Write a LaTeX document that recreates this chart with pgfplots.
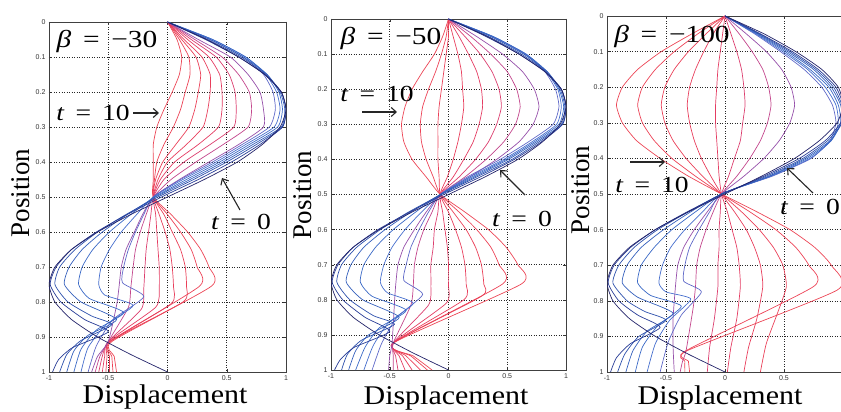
\documentclass[border=0pt]{standalone}
\usepackage{fontspec}
\setmainfont{Liberation Serif}
\setsansfont{Liberation Sans}
\usepackage{pgfplots}
\pgfplotsset{compat=1.18}
\usetikzlibrary{arrows.meta}

% line colours, from t = 0 (dark blue) to t = 10 (red)
\definecolor{t0}{RGB}{35,35,105}
\definecolor{t1}{RGB}{40,60,150}
\definecolor{t2}{RGB}{45,80,172}
\definecolor{t3}{RGB}{52,95,188}
\definecolor{t4}{RGB}{58,105,198}
\definecolor{t5}{RGB}{70,110,205}
\definecolor{t6}{RGB}{95,105,200}
\definecolor{t7}{RGB}{150,80,170}
\definecolor{t8}{RGB}{195,70,140}
\definecolor{t9}{RGB}{220,62,110}
\definecolor{t10}{RGB}{228,60,98}
\definecolor{t11}{RGB}{232,62,92}
\definecolor{t12}{RGB}{234,64,88}
\definecolor{t13}{RGB}{236,66,86}
\definecolor{t14}{RGB}{236,70,86}

\pgfplotsset{
  dispaxis/.style={
    scale only axis,
    y dir=reverse,
    xmin=-1, xmax=1, ymin=0, ymax=1,
    xtick={-1,-0.5,0,0.5,1},
    xticklabels={-1,-0.5,0,0.5,1},
    ytick={0,0.1,0.2,0.3,0.4,0.5,0.6,0.7,0.8,0.9,1},
    yticklabels={0,0.1,0.2,0.3,0.4,0.5,0.6,0.7,0.8,0.9,1},
    grid=major,
    major grid style={black!85, line width=0.55pt, dash pattern=on 0.9pt off 1.6pt},
    tick align=inside,
    major tick length=3pt,
    tick style={black!80, line width=0.4pt},
    tick label style={font=\sffamily\fontsize{7}{8}\selectfont, text=black!80},
    axis line style={black!75, line width=0.6pt},
    every axis plot/.append style={smooth, tension=0.35, line width=0.7pt, mark=none},
  },
}
\tikzset{arr/.style={-{Straight Barb[length=5pt,width=9pt]}, line width=1.1pt, black!85}}

\newcommand\lbl[1]{\scalebox{1.2}[1]{#1}}
\newcommand\gap{\hspace{0.4em}}

\begin{document}
\begin{tikzpicture}
\useasboundingbox (0pt,0pt) rectangle (841pt,412pt);

% ---------------- beta = -30 ----------------
\begin{axis}[dispaxis, at={(49pt,40pt)}, anchor=south west, width=237pt, height=350pt]
\addplot[t14] coordinates {(0,0) (.08,.05) (.12,.1) (.10,.15) (.04,.2) (-.03,.25) (-.09,.3) (-.12,.35) (-.12,.4) (-.12,.45) (-.12,.5) (.03,.55) (.17,.6) (.28,.65) (.35,.7) (.37,.755) (-.47,.913) (-.45,.955) (-.43,1)};
\addplot[t13] coordinates {(0,0) (.10,.05) (.18,.1) (.19,.15) (.15,.2) (.11,.25) (.05,.3) (-.03,.35) (-.09,.4) (-.11,.45) (-.12,.5) (0,.55) (.11,.6) (.20,.65) (.25,.7) (.27,.755) (-.48,.913) (-.47,.955) (-.46,1)};
\addplot[t12] coordinates {(0,0) (.12,.05) (.24,.1) (.28,.15) (.26,.2) (.23,.25) (.18,.3) (.07,.35) (-.04,.4) (-.10,.45) (-.12,.5) (-.03,.55) (.04,.6) (.11,.65) (.15,.7) (.16,.755) (.13,.8) (-.49,.913) (-.49,.955) (-.49,1)};
\addplot[t11] coordinates {(0,0) (.14,.05) (.29,.1) (.36,.15) (.36,.2) (.34,.25) (.30,.3) (.16,.35) (0,.4) (-.08,.45) (-.12,.5) (-.07,.55) (-.02,.6) (.02,.65) (.04,.7) (.05,.755) (.03,.805) (-.49,.913) (-.51,.955) (-.52,1)};
\addplot[t10] coordinates {(0,0) (.17,.05) (.35,.1) (.44,.15) (.46,.2) (.46,.25) (.43,.3) (.26,.35) (.06,.4) (-.06,.45) (-.12,.5) (-.10,.55) (-.09,.6) (-.08,.65) (-.07,.7) (-.07,.76) (-.10,.815) (-.50,.913) (-.53,.955) (-.55,1)};
\addplot[t9] coordinates {(0,0) (.20,.05) (.41,.1) (.52,.15) (.57,.2) (.58,.25) (.56,.3) (.36,.35) (.14,.4) (-.03,.45) (-.12,.5) (-.14,.55) (-.16,.6) (-.18,.65) (-.19,.7) (-.20,.76) (-.22,.82) (-.50,.913) (-.55,.955) (-.58,1)};
\addplot[t8] coordinates {(0,0) (.23,.05) (.46,.1) (.60,.15) (.69,.2) (.71,.25) (.68,.3) (.47,.35) (.24,.4) (.03,.45) (-.12,.5) (-.18,.55) (-.23,.6) (-.27,.65) (-.29,.7) (-.31,.76) (-.33,.815) (-.50,.913) (-.57,.955) (-.61,1)};
\addplot[t7] coordinates {(0,0) (.26,.05) (.53,.1) (.68,.15) (.78,.2) (.81,.25) (.81,.3) (.60,.35) (.35,.4) (.10,.45) (-.12,.5) (-.21,.55) (-.28,.6) (-.35,.65) (-.39,.7) (-.41,.76) (-.43,.81) (-.50,.913) (-.59,.955) (-.64,1)};
\addplot[t6] coordinates {(0,0) (.36,.05) (.64,.1) (.81,.15) (.89,.2) (.91,.25) (.86,.3) (.63,.35) (.38,.4) (.11,.45) (-.12,.5) (-.20,.55) (-.27,.6) (-.33,.65) (-.37,.7) (-.38,.745) (-.20,.785) (-.46,.85) (-.60,.925) (-.67,1)};
\addplot[t5] coordinates {(0,0) (.38,.05) (.66,.1) (.83,.15) (.92,.2) (.95,.25) (.90,.3) (.66,.35) (.41,.4) (.13,.45) (-.12,.5) (-.26,.55) (-.39,.6) (-.49,.65) (-.56,.7) (-.58,.75) (-.53,.78) (-.29,.81) (-.52,.865) (-.67,.93) (-.73,1)};
\addplot[t4] coordinates {(0,0) (.38,.05) (.66,.1) (.84,.15) (.94,.2) (.97,.25) (.93,.3) (.69,.35) (.44,.4) (.16,.45) (-.11,.5) (-.31,.55) (-.49,.6) (-.63,.65) (-.72,.7) (-.75,.75) (-.66,.79) (-.37,.83) (-.60,.88) (-.73,.935) (-.79,1)};
\addplot[t3] coordinates {(0,0) (.36,.05) (.64,.1) (.84,.15) (.95,.2) (.99,.25) (.96,.3) (.72,.35) (.47,.4) (.19,.45) (-.10,.5) (-.34,.55) (-.55,.6) (-.72,.65) (-.83,.7) (-.87,.75) (-.73,.8) (-.43,.85) (-.67,.895) (-.79,.94) (-.85,1)};
\addplot[t2] coordinates {(0,0) (.34,.05) (.62,.1) (.83,.15) (.96,.2) (1,.25) (.97,.3) (.75,.35) (.50,.4) (.22,.45) (-.08,.5) (-.35,.55) (-.59,.6) (-.78,.65) (-.91,.7) (-.95,.75) (-.84,.8) (-.64,.84) (-.47,.865) (-.73,.91) (-.85,.95) (-.91,1)};
\addplot[t1] coordinates {(0,0) (.32,.05) (.60,.1) (.82,.15) (.96,.2) (1,.25) (.97,.3) (.78,.35) (.54,.4) (.26,.45) (-.05,.5) (-.34,.55) (-.60,.6) (-.81,.65) (-.94,.7) (-.99,.75) (-.90,.8) (-.70,.85) (-.50,.885) (-.80,.93) (-.92,.965) (-.97,1)};
\addplot[t0] coordinates {(0,0) (.33,.05) (.60,.1) (.82,.15) (.96,.2) (1,.25) (.95,.3) (.80,.35) (.59,.4) (.31,.45) (0,.5) (-.31,.55) (-.59,.6) (-.81,.65) (-.95,.7) (-1,.75) (-.95,.8) (-.81,.85) (-.59,.9) (-.31,.95) (0,1)};
\end{axis}

% ---------------- beta = -50 ----------------
\begin{axis}[dispaxis, at={(331pt,42pt)}, anchor=south west, width=235pt, height=351pt]
\addplot[t14] coordinates {(0,0) (-.05,.05) (-.12,.1) (-.22,.15) (-.31,.2) (-.37,.25) (-.40,.3) (-.38,.35) (-.31,.4) (-.19,.45) (-.07,.5) (.14,.55) (.34,.6) (.49,.65) (.59,.7) (.62,.755) (-.47,.923) (-.30,.96) (-.14,1)};
\addplot[t13] coordinates {(0,0) (-.02,.05) (-.06,.1) (-.11,.15) (-.17,.2) (-.22,.25) (-.24,.3) (-.23,.35) (-.19,.4) (-.13,.45) (-.07,.5) (.09,.55) (.24,.6) (.36,.65) (.43,.7) (.46,.755) (-.47,.923) (-.32,.96) (-.18,1)};
\addplot[t12] coordinates {(0,0) (0,.05) (-.02,.1) (-.04,.15) (-.06,.2) (-.08,.25) (-.09,.3) (-.09,.35) (-.09,.4) (-.08,.45) (-.07,.5) (.04,.55) (.15,.6) (.23,.65) (.28,.7) (.30,.755) (.28,.79) (-.47,.923) (-.36,.96) (-.24,1)};
\addplot[t11] coordinates {(0,0) (.04,.05) (.08,.1) (.11,.15) (.12,.2) (.13,.25) (.11,.3) (.08,.35) (.04,.4) (-.01,.45) (-.07,.5) (0,.55) (.06,.6) (.11,.65) (.14,.7) (.15,.755) (.13,.80) (-.47,.923) (-.39,.96) (-.31,1)};
\addplot[t10] coordinates {(0,0) (.09,.05) (.17,.1) (.24,.15) (.28,.2) (.29,.25) (.26,.3) (.21,.35) (.13,.4) (.04,.45) (-.07,.5) (-.05,.55) (-.03,.6) (-.01,.65) (0,.7) (0,.76) (-.02,.81) (-.47,.923) (-.42,.96) (-.37,1)};
\addplot[t9] coordinates {(0,0) (.14,.05) (.27,.1) (.37,.15) (.43,.2) (.45,.25) (.41,.3) (.34,.35) (.23,.4) (.09,.45) (-.07,.5) (-.09,.55) (-.12,.6) (-.13,.65) (-.15,.7) (-.15,.76) (-.17,.815) (-.47,.923) (-.45,.96) (-.43,1)};
\addplot[t8] coordinates {(0,0) (.19,.05) (.36,.1) (.50,.15) (.58,.2) (.61,.25) (.57,.3) (.47,.35) (.32,.4) (.14,.45) (-.07,.5) (-.14,.55) (-.21,.6) (-.26,.65) (-.29,.7) (-.30,.76) (-.32,.815) (-.47,.923) (-.47,.96) (-.47,1)};
\addplot[t7] coordinates {(0,0) (.24,.05) (.46,.1) (.63,.15) (.73,.2) (.77,.25) (.72,.3) (.60,.35) (.41,.4) (.18,.45) (-.07,.5) (-.19,.55) (-.29,.6) (-.38,.65) (-.43,.7) (-.45,.76) (-.46,.81) (-.48,.923) (-.50,.96) (-.51,1)};
\addplot[t6] coordinates {(0,0) (.37,.05) (.65,.1) (.82,.15) (.91,.2) (.94,.25) (.89,.3) (.68,.35) (.44,.4) (.16,.45) (-.07,.5) (-.17,.55) (-.25,.6) (-.32,.65) (-.36,.7) (-.38,.745) (-.22,.785) (-.44,.85) (-.57,.925) (-.65,1)};
\addplot[t5] coordinates {(0,0) (.38,.05) (.66,.1) (.83,.15) (.93,.2) (.96,.25) (.92,.3) (.71,.35) (.47,.4) (.18,.45) (-.07,.5) (-.23,.55) (-.37,.6) (-.48,.65) (-.55,.7) (-.58,.75) (-.52,.78) (-.30,.81) (-.51,.865) (-.64,.93) (-.72,1)};
\addplot[t4] coordinates {(0,0) (.38,.05) (.66,.1) (.84,.15) (.94,.2) (.98,.25) (.94,.3) (.73,.35) (.49,.4) (.20,.45) (-.07,.5) (-.28,.55) (-.47,.6) (-.62,.65) (-.72,.7) (-.75,.75) (-.65,.79) (-.36,.83) (-.59,.88) (-.71,.935) (-.79,1)};
\addplot[t3] coordinates {(0,0) (.36,.05) (.64,.1) (.84,.15) (.95,.2) (.99,.25) (.96,.3) (.75,.35) (.51,.4) (.22,.45) (-.07,.5) (-.32,.55) (-.54,.6) (-.72,.65) (-.83,.7) (-.87,.75) (-.73,.8) (-.42,.85) (-.68,.9) (-.79,.945) (-.85,1)};
\addplot[t2] coordinates {(0,0) (.34,.05) (.62,.1) (.83,.15) (.96,.2) (1,.25) (.97,.3) (.77,.35) (.54,.4) (.24,.45) (-.06,.5) (-.34,.55) (-.58,.6) (-.78,.65) (-.91,.7) (-.95,.75) (-.84,.8) (-.64,.845) (-.46,.87) (-.74,.915) (-.86,.955) (-.91,1)};
\addplot[t1] coordinates {(0,0) (.32,.05) (.60,.1) (.82,.15) (.96,.2) (1,.25) (.97,.3) (.79,.35) (.56,.4) (.27,.45) (-.04,.5) (-.33,.55) (-.60,.6) (-.81,.65) (-.94,.7) (-.99,.75) (-.90,.8) (-.71,.85) (-.50,.89) (-.80,.935) (-.92,.97) (-.97,1)};
\addplot[t0] coordinates {(0,0) (.33,.05) (.60,.1) (.82,.15) (.96,.2) (1,.25) (.95,.3) (.80,.35) (.59,.4) (.31,.45) (0,.5) (-.31,.55) (-.59,.6) (-.81,.65) (-.95,.7) (-1,.75) (-.95,.8) (-.81,.85) (-.59,.9) (-.31,.95) (0,1)};
\end{axis}

% ---------------- beta = -100 ----------------
\begin{axis}[dispaxis, at={(607pt,40pt)}, anchor=south west, width=236pt, height=356pt,
  xticklabels={-1,-0.5,0,0.5,{}}]
\addplot[t14] coordinates {(0,0) (-.28,.05) (-.54,.1) (-.74,.15) (-.87,.2) (-.92,.25) (-.87,.3) (-.75,.35) (-.55,.4) (-.31,.45) (-.03,.5) (.27,.55) (.55,.6) (.76,.65) (.90,.7) (.95,.77) (-.32,.94) (-.31,.97) (-.30,1)};
\addplot[t13] coordinates {(0,0) (-.23,.05) (-.43,.1) (-.59,.15) (-.70,.2) (-.74,.25) (-.70,.3) (-.60,.35) (-.45,.4) (-.25,.45) (-.03,.5) (.21,.55) (.43,.6) (.60,.65) (.71,.7) (.75,.76) (-.33,.94) (-.34,.97) (-.34,1)};
\addplot[t12] coordinates {(0,0) (-.16,.05) (-.31,.1) (-.43,.15) (-.51,.2) (-.54,.25) (-.51,.3) (-.44,.35) (-.33,.4) (-.19,.45) (-.03,.5) (.14,.55) (.29,.6) (.41,.65) (.49,.7) (.52,.76) (.45,.83) (.35,.92) (.30,1)};
\addplot[t11] coordinates {(0,0) (-.10,.05) (-.18,.1) (-.25,.15) (-.30,.2) (-.32,.25) (-.30,.3) (-.26,.35) (-.20,.4) (-.12,.45) (-.03,.5) (.08,.55) (.18,.6) (.25,.65) (.30,.7) (.32,.76) (.27,.85) (.20,.93) (.16,1)};
\addplot[t10] coordinates {(0,0) (-.02,.05) (-.04,.1) (-.06,.15) (-.07,.2) (-.08,.25) (-.08,.3) (-.07,.35) (-.06,.4) (-.05,.45) (-.03,.5) (.02,.55) (.06,.6) (.10,.65) (.12,.7) (.13,.76) (.10,.85) (.05,.93) (.02,1)};
\addplot[t9] coordinates {(0,0) (.05,.05) (.10,.1) (.14,.15) (.16,.2) (.17,.25) (.15,.3) (.13,.35) (.08,.4) (.03,.45) (-.03,.5) (-.04,.55) (-.05,.6) (-.05,.65) (-.06,.7) (-.06,.76) (-.09,.85) (-.13,.93) (-.15,1)};
\addplot[t8] coordinates {(0,0) (.12,.05) (.23,.1) (.32,.15) (.37,.2) (.39,.25) (.36,.3) (.30,.35) (.21,.4) (.10,.45) (-.03,.5) (-.10,.55) (-.16,.6) (-.21,.65) (-.24,.7) (-.25,.76) (-.27,.82) (-.33,.94) (-.36,.97) (-.38,1)};
\addplot[t7] coordinates {(0,0) (.18,.05) (.35,.1) (.48,.15) (.56,.2) (.59,.25) (.55,.3) (.46,.35) (.33,.4) (.16,.45) (-.03,.5) (-.15,.55) (-.26,.6) (-.35,.65) (-.40,.7) (-.42,.76) (-.44,.85) (-.44,.93) (-.43,1)};
\addplot[t6] coordinates {(0,0) (.25,.05) (.47,.1) (.67,.15) (.82,.2) (.91,.25) (.94,.3) (.89,.35) (.73,.4) (.40,.45) (-.03,.5) (-.13,.55) (-.22,.6) (-.30,.65) (-.34,.7) (-.35,.745) (-.20,.775) (-.37,.84) (-.48,.915) (-.55,1)};
\addplot[t5] coordinates {(0,0) (.26,.05) (.49,.1) (.70,.15) (.85,.2) (.94,.25) (.96,.3) (.90,.35) (.72,.4) (.39,.45) (-.03,.5) (-.19,.55) (-.34,.6) (-.46,.65) (-.53,.7) (-.56,.75) (-.50,.775) (-.29,.795) (-.47,.855) (-.59,.92) (-.66,1)};
\addplot[t4] coordinates {(0,0) (.27,.05) (.51,.1) (.72,.15) (.88,.2) (.96,.25) (.98,.3) (.90,.35) (.70,.4) (.38,.45) (-.03,.5) (-.25,.55) (-.45,.6) (-.60,.65) (-.71,.7) (-.74,.75) (-.63,.785) (-.37,.815) (-.57,.87) (-.70,.93) (-.76,1)};
\addplot[t3] coordinates {(0,0) (.28,.05) (.53,.1) (.75,.15) (.90,.2) (.98,.25) (.99,.3) (.89,.35) (.68,.4) (.37,.45) (-.03,.5) (-.29,.55) (-.52,.6) (-.71,.65) (-.83,.7) (-.87,.75) (-.74,.79) (-.44,.835) (-.66,.885) (-.78,.94) (-.84,1)};
\addplot[t2] coordinates {(0,0) (.29,.05) (.55,.1) (.77,.15) (.92,.2) (.99,.25) (.99,.3) (.87,.35) (.66,.4) (.35,.45) (-.03,.5) (-.31,.55) (-.57,.6) (-.77,.65) (-.90,.7) (-.95,.75) (-.83,.8) (-.68,.83) (-.50,.855) (-.73,.9) (-.85,.95) (-.91,1)};
\addplot[t1] coordinates {(0,0) (.30,.05) (.57,.1) (.79,.15) (.94,.2) (1,.25) (.98,.3) (.85,.35) (.63,.4) (.33,.45) (-.02,.5) (-.32,.55) (-.59,.6) (-.80,.65) (-.94,.7) (-.99,.75) (-.90,.8) (-.74,.84) (-.55,.875) (-.80,.92) (-.92,.96) (-.97,1)};
\addplot[t0] coordinates {(0,0) (.33,.05) (.60,.1) (.82,.15) (.96,.2) (1,.25) (.95,.3) (.80,.35) (.59,.4) (.31,.45) (0,.5) (-.31,.55) (-.59,.6) (-.81,.65) (-.95,.7) (-1,.75) (-.95,.8) (-.81,.85) (-.59,.9) (-.31,.95) (0,1)};
\end{axis}

% axis titles
\begin{scope}[font=\fontsize{27}{30}\selectfont]
  \node[anchor=base] at (165pt,8pt) {\scalebox{1.11}[1]{Displacement}};
  \node[anchor=base] at (446pt,7pt) {\scalebox{1.11}[1]{Displacement}};
  \node[anchor=base] at (720pt,7pt) {\scalebox{1.11}[1]{Displacement}};
  \node[rotate=90] at (21pt,219pt) {Position};
  \node[rotate=90] at (303pt,217pt) {Position};
  \node[rotate=90] at (581pt,222pt) {Position};
\end{scope}

% parameter labels
\begin{scope}[font=\fontsize{24.5}{28}\selectfont]
  \node[anchor=base] at (107pt,364pt) {\lbl{\textit{β}\gap=\gap−30}};
  \node[anchor=base] at (391pt,367pt) {\lbl{\textit{β}\gap=\gap−50}};
  \node[anchor=base] at (672pt,369pt) {\lbl{\textit{β}\gap=\gap−100}};
\end{scope}

% time labels and arrows
\begin{scope}[font=\fontsize{23}{26}\selectfont]
  \node[anchor=base] at (93pt,291pt) {\lbl{\textit{t}\gap=\gap10}};
  \node[anchor=base] at (377pt,310pt) {\lbl{\textit{t}\gap=\gap10}};
  \node[anchor=base] at (652pt,219pt) {\lbl{\textit{t}\gap=\gap10}};
  \node[anchor=base] at (241pt,182pt) {\lbl{\textit{t}\gap=\gap0}};
  \node[anchor=base] at (522pt,185pt) {\lbl{\textit{t}\gap=\gap0}};
  \node[anchor=base] at (810pt,197pt) {\lbl{\textit{t}\gap=\gap0}};
\end{scope}
\draw[arr] (133pt,299pt) -- (159pt,299pt);
\draw[arr] (362pt,300pt) -- (397pt,300pt);
\draw[arr] (630pt,250pt) -- (665pt,250pt);
\draw[arr] (240pt,202pt) -- (222pt,234pt);
\draw[arr] (525pt,217pt) -- (500pt,242pt);
\draw[arr] (813pt,219pt) -- (787pt,244pt);
\end{tikzpicture}
\end{document}
